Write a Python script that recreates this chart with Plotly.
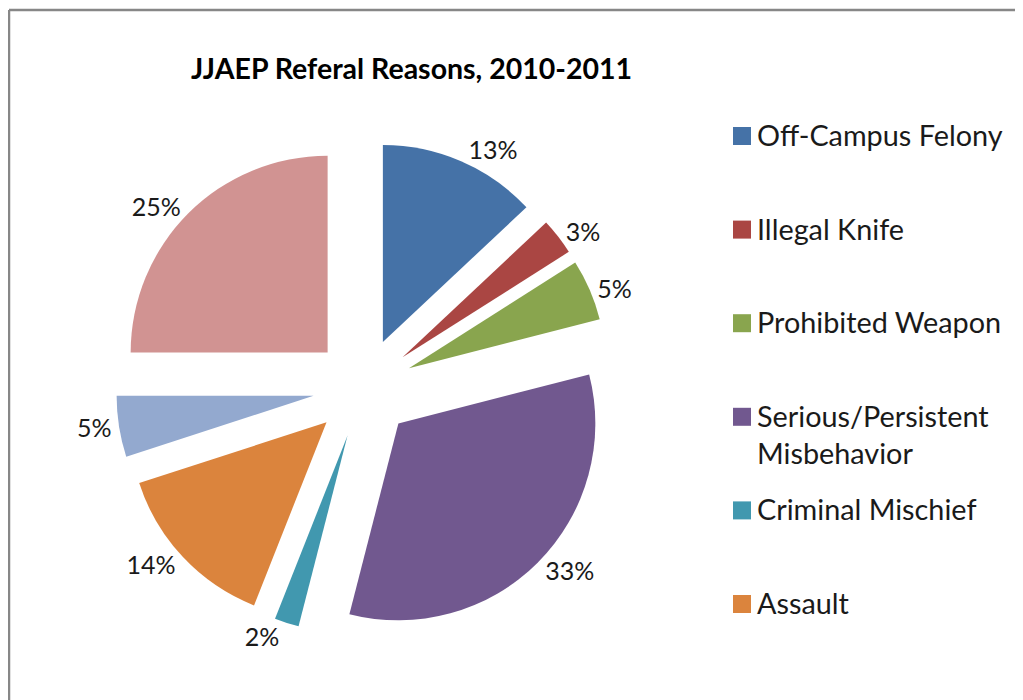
import plotly.graph_objects as go

OFF = 8  # page body margin of the browser
W, H = 1023 - OFF, 700 - OFF  # figure fits in the window without scrollbars

# ---- data ----
categories = ["Off-Campus Felony", "Illegal Knife", "Prohibited Weapon",
              "Serious/Persistent Misbehavior", "Criminal Mischief", "Assault",
              "Other (unlabeled)", "Other 2 (unlabeled)"]
values = [13, 3, 5, 33, 2, 14, 5, 25]
colors = ["#4572A7", "#AA4643", "#89A54E", "#71588F",
          "#4198AF", "#DB843D", "#93A9CF", "#D19392"]
legend_labels = ["Off-Campus Felony", "Illegal Knife", "Prohibited Weapon",
                 "Serious/Persistent<br>Misbehavior", "Criminal Mischief", "Assault"]
title_text = "JJAEP Referal Reasons, 2010-2011"

FONT = "Lato"

def px_x(p):
    return (p - OFF) / W

def px_y(p):
    return 1 - (p - OFF) / H

fig = go.Figure()
fig.add_trace(go.Pie(
    labels=categories,
    values=values,
    sort=False,
    direction="clockwise",
    rotation=0,
    pull=[0.254] * len(values),
    marker=dict(colors=colors, line=dict(width=0)),
    texttemplate="%{percent:.0%}",
    textposition="outside",
    outsidetextfont=dict(family=FONT, size=25, color="#1a1a1a"),
    domain=dict(x=[px_x(116), px_x(610)], y=[px_y(635), px_y(141)]),
    showlegend=False,
    automargin=False,
    hoverinfo="label+percent",
))

shapes = []
annotations = []

# chart border: only top and left edges are visible in the window
border = dict(color="#878787", width=2.5)
shapes.append(dict(type="line", xref="paper", yref="paper",
                   x0=px_x(9), x1=1.0, y0=px_y(10), y1=px_y(10), line=border))
shapes.append(dict(type="line", xref="paper", yref="paper",
                   x0=px_x(9), x1=px_x(9), y0=px_y(10), y1=0.0, line=border))

# manual legend (first six categories)
leg_y0, leg_step = 136, 93.6
for i, lab in enumerate(legend_labels):
    yc = leg_y0 + i * leg_step
    shapes.append(dict(type="rect", xref="paper", yref="paper",
                       x0=px_x(733), x1=px_x(751), y0=px_y(yc - 9), y1=px_y(yc + 9),
                       line=dict(width=0), fillcolor=colors[i]))
    annotations.append(dict(xref="paper", yref="paper", x=px_x(755), y=px_y(yc - 20),
                            xanchor="left", yanchor="top", showarrow=False, align="left",
                            text=lab, font=dict(family=FONT, size=28.8, color="#1a1a1a")))

# title
annotations.append(dict(xref="paper", yref="paper", x=px_x(411), y=px_y(68),
                        xanchor="center", yanchor="middle", showarrow=False,
                        text="<b>" + title_text + "</b>",
                        font=dict(family=FONT, size=28.5, color="#000000")))

fig.update_layout(
    width=W, height=H,
    margin=dict(l=0, r=0, t=0, b=0, autoexpand=False),
    paper_bgcolor="white",
    plot_bgcolor="white",
    shapes=shapes,
    annotations=annotations,
)

fig.write_html("out.html")
